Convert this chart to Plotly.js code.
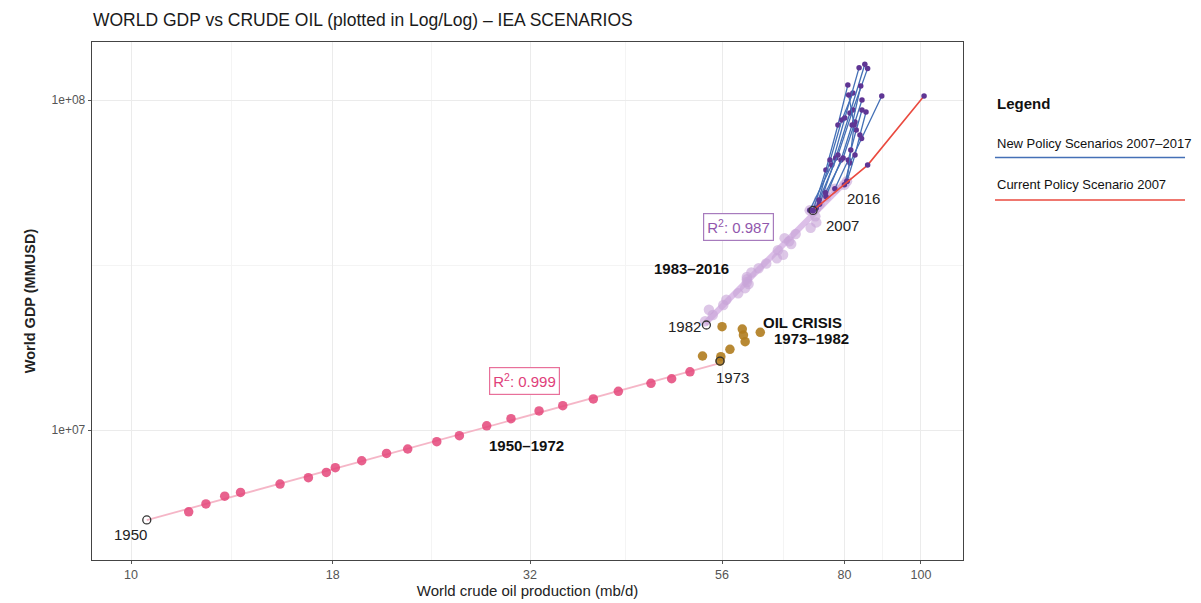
<!DOCTYPE html>
<html>
<head>
<meta charset="utf-8">
<script src="https://cdn.plot.ly/plotly-3.0.1.min.js"></script>
<style>html,body{margin:0;padding:0;background:#fff;}#chart{width:1201px;height:603px;}</style>
</head>
<body>
<div id="chart"></div>
<script>
// ---------- DATA ----------
// 1950-1972 (pre oil crisis)
const years_1950_1972 = [1950,1951,1952,1953,1954,1955,1956,1957,1958,1959,1960,1961,1962,1963,1964,1965,1966,1967,1968,1969,1970,1971,1972];
const oil_1950_1972 = [10.47,11.83,12.44,13.14,13.76,15.44,16.77,17.67,18.14,19.59,21.06,22.40,24.38,26.04,28.20,30.27,32.85,35.20,38.48,41.39,45.52,48.35,51.00];
const gdp_1950_1972 = [5.34e6,5.65e6,5.97e6,6.30e6,6.47e6,6.86e6,7.17e6,7.44e6,7.69e6,8.07e6,8.49e6,8.76e6,9.22e6,9.61e6,10.30e6,10.82e6,11.42e6,11.85e6,12.42e6,13.10e6,13.85e6,14.30e6,15.01e6];
// 1973 (start of oil crisis)
const oil_1973 = 55.67;
const gdp_1973 = 16.18e6;
// Oil crisis 1974-1981
const years_crisis = [1974,1975,1976,1977,1978,1979,1980,1981];
const oil_crisis = [55.8,52.9,57.3,59.9,59.6,62.6,59.4,56.0];
const gdp_crisis = [16.68e6,16.76e6,17.56e6,18.52e6,19.40e6,19.77e6,20.23e6,20.56e6];
// 1982 - 2016
const years_1982_2016 = [1982,1983,1984,1985,1986,1987,1988,1989,1990,1991,1992,1993,1994,1995,1996,1997,1998,1999,2000,2001,2002,2003,2004,2005,2006,2007,2008,2009,2010,2011,2012,2013,2014,2015,2016];
const oil_1982_2016 = [53.5,53.3,54.5,53.9,56.2,56.7,58.7,59.9,60.5,60.2,60.2,60.2,61.0,62.3,63.7,65.7,66.9,65.9,68.5,68.1,67.2,69.4,72.5,73.7,73.5,73.0,73.7,72.3,74.4,74.3,75.8,75.7,77.8,80.0,80.6];
const gdp_1982_2016 = [20.81e6,21.35e6,22.31e6,23.14e6,23.93e6,24.81e6,25.95e6,26.91e6,27.69e6,28.08e6,28.61e6,29.10e6,30.00e6,30.90e6,31.95e6,33.13e6,33.96e6,35.08e6,36.62e6,37.32e6,38.14e6,39.25e6,40.98e6,42.58e6,44.41e6,46.27e6,47.10e6,46.30e6,48.29e6,49.79e6,51.03e6,52.36e6,53.83e6,55.34e6,56.72e6];
// IEA Current Policy Scenario 2007
const cps2007_oil = [73.0,85.6,100.9];
const cps2007_gdp = [46.27e6,63.5e6,102.8e6];
// IEA New Policy Scenarios 2007-2017
const nps2007_oil = [73.0,75.8,78.5,80.8];  const nps2007_gdp = [46.27e6,61.4e6,84.0e6,111.0e6];
const nps2008_oil = [73.7,76.7,79.4,82.0];  const nps2008_gdp = [47.10e6,65.8e6,87.0e6,105.0e6];
const nps2009_oil = [72.3,77.1,80.1,83.5];  const nps2009_gdp = [46.30e6,63.5e6,88.2e6,125.3e6];
const nps2010_oil = [74.4,78.0,81.3,84.9];  const nps2010_gdp = [48.29e6,66.7e6,91.3e6,128.3e6];
const nps2011_oil = [74.3,78.5,82.0,85.6];  const nps2011_gdp = [49.79e6,68.1e6,93.3e6,124.7e6];
const nps2012_oil = [75.8,79.2,81.8,83.9];  const nps2012_gdp = [51.03e6,65.8e6,84.0e6,110.3e6];
const nps2013_oil = [75.7,79.7,82.5,84.2];  const nps2013_gdp = [52.36e6,66.7e6,85.8e6,100.0e6];
const nps2014_oil = [77.8,80.9,82.8,84.2];  const nps2014_gdp = [53.83e6,65.8e6,81.1e6,93.3e6];
const nps2015_oil = [80.0,81.3,84.1,89.2];  const nps2015_gdp = [55.34e6,64.4e6,76.5e6,102.8e6];
const nps2016_oil = [80.6,81.5,82.3,81.0];  const nps2016_gdp = [56.72e6,70.6e6,84.0e6,103.5e6];
const nps2017_oil = [80.6,82.5,83.7,85.2];  const nps2017_gdp = [56.72e6,68.1e6,78.3e6,92.0e6];
// Labels
const xTickVals = [10,18,32,56,80,100];
const xTickText = ['10','18','32','56','80','100'];
const yTickVals = [1e7,1e8];
const yTickText = ['1e+07','1e+08'];
const r2_1950_1972 = '0.999';
const r2_1983_2016 = '0.987';

// ---------- HELPERS ----------
const L = Math.log10;
function fitLine(xs, ys) {
  const lx = xs.map(L), ly = ys.map(L), n = lx.length;
  const mx = lx.reduce((a,b)=>a+b,0)/n, my = ly.reduce((a,b)=>a+b,0)/n;
  let sxy=0, sxx=0;
  for (let i=0;i<n;i++){ sxy += (lx[i]-mx)*(ly[i]-my); sxx += (lx[i]-mx)**2; }
  const b = sxy/sxx, a = my - b*mx;
  const x0 = Math.min(...xs), x1 = Math.max(...xs);
  return {x:[x0,x1], y:[Math.pow(10,a+b*L(x0)), Math.pow(10,a+b*L(x1))]};
}

const FONT = 'Liberation Sans, Arial, Helvetica, sans-serif';
const traces = [];

// pink regression line 1950-1973
const pinkFit = fitLine(oil_1950_1972.concat([oil_1973]), gdp_1950_1972.concat([gdp_1973]));
traces.push({x:pinkFit.x, y:pinkFit.y, mode:'lines', line:{color:'rgba(244,178,196,0.95)', width:1.8}, hoverinfo:'skip'});
// lavender regression line 1982-2016
const lavFit = fitLine(oil_1982_2016, gdp_1982_2016);
traces.push({x:lavFit.x, y:lavFit.y, mode:'lines', line:{color:'rgba(214,180,228,0.85)', width:6}, hoverinfo:'skip'});

// pink points
traces.push({x:oil_1950_1972.slice(1), y:gdp_1950_1972.slice(1), mode:'markers',
  marker:{color:'rgba(228,70,122,0.85)', size:9.5, line:{width:0}}});
// oil crisis points
traces.push({x:[oil_1973].concat(oil_crisis), y:[gdp_1973].concat(gdp_crisis), mode:'markers',
  marker:{color:'rgba(176,124,30,0.9)', size:9.5, line:{width:0}}});
// lavender points
traces.push({x:oil_1982_2016.slice(1), y:gdp_1982_2016.slice(1), mode:'markers',
  marker:{color:'rgba(200,165,216,0.62)', size:10.5, line:{width:0}}});

// new policy scenarios
const nps = [
  [nps2007_oil,nps2007_gdp],[nps2008_oil,nps2008_gdp],[nps2009_oil,nps2009_gdp],[nps2010_oil,nps2010_gdp],
  [nps2011_oil,nps2011_gdp],[nps2012_oil,nps2012_gdp],[nps2013_oil,nps2013_gdp],[nps2014_oil,nps2014_gdp],
  [nps2015_oil,nps2015_gdp],[nps2016_oil,nps2016_gdp],[nps2017_oil,nps2017_gdp]
];
nps.forEach(s => traces.push({x:s[0], y:s[1], mode:'lines+markers',
  line:{color:'#4470b6', width:1.3}, marker:{color:'#5f3594', size:5.5}}));
// current policy scenario
traces.push({x:cps2007_oil, y:cps2007_gdp, mode:'lines+markers',
  line:{color:'#ea4a3f', width:1.6}, marker:{color:'#5f3594', size:5.5}});

// key years open circles
const i2007 = years_1982_2016.indexOf(2007);
const keyOil = [oil_1950_1972[0], oil_1973, oil_1982_2016[0], oil_1982_2016[i2007]];
const keyGdp = [gdp_1950_1972[0], gdp_1973, gdp_1982_2016[0], gdp_1982_2016[i2007]];
traces.push({x:keyOil, y:keyGdp, mode:'markers',
  marker:{symbol:'circle-open', color:'#333333', size:8, line:{width:1.3, color:'#333333'}}});

// ---------- ANNOTATIONS ----------
const i2016 = years_1982_2016.indexOf(2016);
function yearLabel(text, ox, oy, dx, dy) {
  return {x:L(ox), y:L(oy), xref:'x', yref:'y', text:text, showarrow:false, xshift:dx, yshift:dy,
    font:{family:FONT, size:15, color:'#222'}};
}
const ann = [
  yearLabel('1950', oil_1950_1972[0], gdp_1950_1972[0], -16, -15),
  yearLabel('1973', oil_1973, gdp_1973, 12, -16),
  yearLabel('1982', oil_1982_2016[0], gdp_1982_2016[0], -22, -2),
  yearLabel('2007', oil_1982_2016[i2007], gdp_1982_2016[i2007], 29, -15),
  yearLabel('2016', oil_1982_2016[i2016], gdp_1982_2016[i2016], 17, -17),
  {x:1.5, y:6.9545, xref:'x', yref:'y', text:'<b>1950–1972</b>', showarrow:false, font:{family:FONT, size:15, color:'#111'}},
  {x:1.7101, y:7.4909, xref:'x', yref:'y', text:'<b>1983–2016</b>', showarrow:false, font:{family:FONT, size:15, color:'#111'}},
  {x:1.8494, y:7.3273, xref:'x', yref:'y', text:'<b>OIL CRISIS</b>', showarrow:false, font:{family:FONT, size:15, color:'#111'}},
  {x:1.862, y:7.2788, xref:'x', yref:'y', text:'<b>1973–1982</b>', showarrow:false, font:{family:FONT, size:15, color:'#111'}},
  {x:1.4975, y:7.1485, xref:'x', yref:'y', text:'R<sup>2</sup>: '+r2_1950_1972, showarrow:false,
    font:{family:FONT, size:15, color:'#e0407a'}, bordercolor:'#e8709a', borderwidth:1.2, borderpad:3, bgcolor:'#ffffff'},
  {x:1.7684, y:7.6152, xref:'x', yref:'y', text:'R<sup>2</sup>: '+r2_1983_2016, showarrow:false,
    font:{family:FONT, size:15, color:'#9157ad'}, bordercolor:'#a77bbd', borderwidth:1.2, borderpad:3, bgcolor:'#ffffff'},
  // custom legend
  {x:1.0367, y:0.882, xref:'paper', yref:'paper', xanchor:'left', yanchor:'middle', text:'<b>Legend</b>', showarrow:false,
    font:{family:FONT, size:15, color:'#111'}},
  {x:1.0367, y:0.805, xref:'paper', yref:'paper', xanchor:'left', yanchor:'middle', text:'New Policy Scenarios 2007–2017', showarrow:false,
    font:{family:FONT, size:13, color:'#111'}},
  {x:1.0367, y:0.724, xref:'paper', yref:'paper', xanchor:'left', yanchor:'middle', text:'Current Policy Scenario 2007', showarrow:false,
    font:{family:FONT, size:13, color:'#111'}}
];
const shapes = [
  {type:'line', xref:'paper', yref:'paper', x0:1.0367, x1:1.2549, y0:0.777, y1:0.777, line:{color:'#4470b6', width:1.5}},
  {type:'line', xref:'paper', yref:'paper', x0:1.0367, x1:1.2549, y0:0.695, y1:0.695, line:{color:'#ea4a3f', width:1.5}}
];

const layout = {
  width:1201, height:603,
  margin:{l:92, r:238, t:42, b:43},
  paper_bgcolor:'#ffffff', plot_bgcolor:'#ffffff',
  showlegend:false,
  font:{family:FONT, color:'#222'},
  title:{text:'WORLD GDP vs CRUDE OIL (plotted in Log/Log) – IEA SCENARIOS', xref:'container', yref:'container',
    x:0.0774, xanchor:'left', y:0.967, yanchor:'middle', font:{family:FONT, size:17.5, color:'#1a1a1a'}},
  xaxis:{type:'log', range:[0.9506, 2.0532], tickvals:xTickVals, ticktext:xTickText,
    tickfont:{family:FONT, size:12.5, color:'#555'}, ticks:'outside', ticklen:3, tickcolor:'#555',
    showline:true, mirror:true, linecolor:'#444', linewidth:1.3, zeroline:false,
    showgrid:true, gridcolor:'#ebebeb', gridwidth:1,
    minor:{tickvals:[13.4,24,42.3,66.9,89.4], showgrid:true, gridcolor:'#f4f4f4', gridwidth:1, ticks:''},
    title:{text:'World crude oil production (mb/d)', font:{family:FONT, size:15, color:'#222'}, standoff:3},
    automargin:false},
  yaxis:{type:'log', range:[6.6061, 8.1758], tickvals:yTickVals, ticktext:yTickText,
    tickfont:{family:FONT, size:12, color:'#555'}, ticks:'outside', ticklen:3, tickcolor:'#555',
    showline:true, mirror:true, linecolor:'#444', linewidth:1.3, zeroline:false,
    showgrid:true, gridcolor:'#ebebeb', gridwidth:1,
    minor:{tickvals:[3.1623e7], showgrid:true, gridcolor:'#f4f4f4', gridwidth:1, ticks:''},
    title:{text:'<b>World GDP (MMUSD)</b>', font:{family:FONT, size:14.5, color:'#222'}, standoff:12},
    automargin:false},
  annotations:ann,
  shapes:shapes
};

Plotly.newPlot('chart', traces, layout, {displayModeBar:false, staticPlot:true});
</script>
</body>
</html>
